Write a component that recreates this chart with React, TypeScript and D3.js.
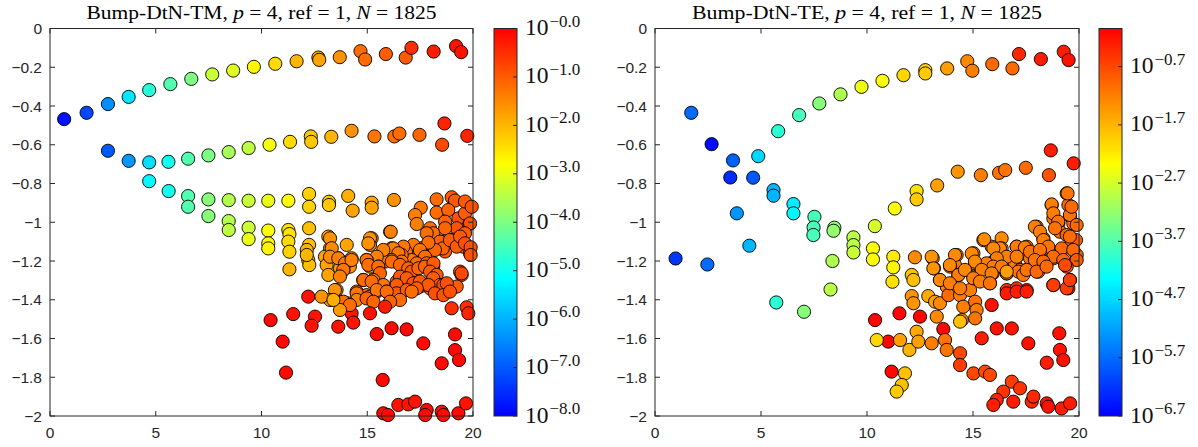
import React from "react";
import * as d3 from "d3";

// [x, y, log10(error)]
const tmData: number[][] = [
  [0.67,-0.468,-7.8],[1.73,-0.435,-7.2],[2.74,-0.39,-6.4],[3.72,-0.353,-5.4],[4.69,-0.318,-4.8],[5.69,-0.287,-4.4],[6.68,-0.26,-4.0],[7.67,-0.237,-3.3],[8.66,-0.217,-3.1],[9.64,-0.198,-2.7],[10.65,-0.182,-2.4],[11.66,-0.169,-2.0],[12.69,-0.15,-1.8],[12.73,-0.162,-1.8],[13.7,-0.148,-1.6],[14.68,-0.117,-1.2],[14.9,-0.16,-1.2],[15.88,-0.132,-1.0],[16.82,-0.15,-1.0],[17.09,-0.1,-0.5],[18.14,-0.119,-0.3],[19.2,-0.091,-0.2],[19.44,-0.122,-0.2],
  [2.74,-0.631,-7.0],[3.72,-0.683,-6.3],[4.69,-0.691,-5.5],[5.6,-0.688,-5.0],[6.53,-0.672,-4.4],[7.49,-0.655,-4.0],[8.45,-0.638,-3.6],[9.39,-0.617,-3.4],[10.38,-0.6,-2.9],[11.35,-0.585,-2.4],[12.33,-0.557,-2.2],[12.35,-0.585,-2.2],[13.3,-0.559,-2.0],[14.26,-0.528,-1.6],[15.34,-0.557,-1.3],[16.28,-0.557,-1.2],[16.52,-0.542,-1.2],[17.47,-0.549,-1.1],[18.65,-0.49,-0.4],[18.54,-0.6,-0.8],[19.73,-0.554,-0.4],
  [4.69,-0.788,-5.2],[5.61,-0.839,-5.0],[6.53,-0.865,-4.4],[6.53,-0.92,-4.4],[7.49,-0.882,-3.9],[7.49,-0.968,-3.9],[8.45,-0.886,-3.5],[8.45,-0.994,-3.5],[8.45,-1.04,-3.4],[9.39,-0.889,-3.3],[9.39,-1.028,-3.3],[9.39,-1.087,-3.0],
  [10.32,-0.889,-3.0],[11.27,-0.889,-2.8],[12.25,-0.854,-2.3],[12.25,-0.92,-2.3],[13.19,-0.894,-2.2],[13.19,-0.911,-2.2],[14.1,-0.864,-1.9],[14.31,-0.94,-1.8],[15.21,-0.899,-1.8],[15.21,-0.925,-1.8],[16.26,-0.885,-1.6],
  [17.53,-0.925,-1.3],[17.26,-0.963,-1.4],[17.34,-1.009,-1.4],[18.28,-0.882,-1.2],[18.28,-0.95,-1.2],[18.99,-0.871,-1.0],[19.15,-0.888,-1.0],[18.83,-0.937,-1.1],[18.68,-0.997,-1.1],[19.31,-0.98,-0.9],[19.23,-1.031,-0.9],[19.86,-0.92,-0.8],[19.83,-1.009,-0.8],[19.62,-0.954,-1.0],
  [19.62,-0.893,-1.0],[19.94,-0.92,-0.9],[19.86,-1.006,-0.9],[19.62,-1.057,-1.0],[19.07,-1.091,-1.0],[19.54,-1.126,-0.9],[19.86,-1.16,-0.9],[18.68,-1.031,-1.1],[17.97,-1.031,-1.2],[18.13,-1.066,-1.1],[18.52,-1.1,-1.1],[18.84,-1.117,-1.0],[18.68,-1.151,-1.0],[18.2,-1.109,-1.1],[18.36,-1.134,-1.1],[17.81,-1.134,-1.1],[17.57,-1.134,-1.2],[17.18,-1.126,-1.2],[17.02,-1.152,-1.2],
  [18.12,-1.057,-1.2],[18.44,-1.1,-1.1],[18.57,-1.135,-1.1],[18.2,-1.143,-1.1],[18.91,-1.092,-1.0],[19.23,-1.126,-1.0],[19.39,-1.074,-1.0],[19.62,-1.109,-0.9],[19.89,-1.129,-0.9],[19.89,-1.169,-0.9],
  [17.81,-1.057,-1.2],[17.89,-1.105,-1.2],[17.18,-1.117,-1.3],[17.49,-1.143,-1.3],[17.73,-1.178,-1.2],[16.83,-1.152,-1.3],[17.1,-1.195,-1.3],[17.34,-1.212,-1.2],[17.81,-1.212,-1.1],[18.12,-1.229,-1.1],[19.39,-1.255,-0.9],[19.46,-1.272,-0.9],
  [16.71,-1.126,-1.3],[16.63,-1.169,-1.2],[16.16,-1.134,-1.3],[16.23,-1.177,-1.2],[15.76,-1.152,-1.3],[15.68,-1.195,-1.2],[15.21,-1.083,-1.5],[15.13,-1.117,-1.4],[16.08,-1.049,-1.4],
  [16.11,-1.049,-1.4],[16.23,-1.135,-1.4],[16.47,-1.16,-1.3],[16.63,-1.203,-1.3],[16.15,-1.195,-1.3],[15.84,-1.203,-1.3],[15.13,-1.083,-1.6],[15.05,-1.109,-1.6],[15.76,-1.143,-1.4],[15.45,-1.178,-1.4],[15.52,-1.229,-1.3],[14.97,-1.195,-1.4],[15.13,-1.229,-1.4],
  [14.26,-1.186,-1.6],[14.18,-1.229,-1.6],[13.87,-1.246,-1.6],[13.71,-1.272,-1.6],[14.03,-1.117,-1.8],[13.16,-1.074,-1.8],[13.24,-1.135,-1.8],[13.0,-1.178,-1.8],[13.08,-1.221,-1.8],[13.16,-1.272,-1.8],[13.63,-1.186,-1.7],[13.71,-1.238,-1.7],
  [13.24,-1.083,-1.6],[13.32,-1.134,-1.5],[13.24,-1.178,-1.5],[13.63,-1.186,-1.4],[13.95,-1.212,-1.3],[14.26,-1.195,-1.4],[13.87,-1.246,-1.3],[13.71,-1.28,-1.4],[14.97,-1.195,-1.3],[15.05,-1.22,-1.2],[15.52,-1.229,-1.2],[15.6,-1.263,-1.1],[16.16,-1.203,-1.2],
  [16.55,-1.22,-1.1],[16.94,-1.238,-1.1],[17.1,-1.255,-1.0],[17.42,-1.238,-1.1],[17.73,-1.229,-1.1],[18.13,-1.212,-1.0],[17.97,-1.255,-1.0],[18.28,-1.272,-1.0],
  [12.25,-1.031,-2.1],[12.25,-1.117,-2.1],[12.21,-1.195,-2.1],[12.26,-1.221,-2.1],[12.14,-1.143,-2.0],[12.14,-1.169,-2.0],[11.27,-1.04,-2.5],[11.32,-1.061,-2.5],[11.27,-1.1,-2.4],[11.32,-1.152,-2.3],[11.32,-1.243,-2.0],[10.32,-1.043,-2.8],[10.32,-1.109,-2.7],[10.32,-1.135,-2.7],
  [14.81,-1.298,-1.3],[15.29,-1.298,-1.3],[15.76,-1.324,-1.3],[16.39,-1.307,-1.2],[16.86,-1.324,-1.2],[17.18,-1.315,-1.1],[17.49,-1.332,-1.1],[17.97,-1.341,-1.1],[18.12,-1.289,-1.0],[18.44,-1.324,-1.0],[18.76,-1.324,-1.0],[19.23,-1.332,-1.0],[19.46,-1.264,-0.8],
  [16.55,-1.281,-1.0],[16.87,-1.289,-1.0],[17.18,-1.315,-0.9],[17.49,-1.306,-1.0],[17.89,-1.324,-1.0],[18.6,-1.324,-0.9],[18.76,-1.315,-0.9],[18.2,-1.367,-0.9],[18.6,-1.376,-0.9],[18.91,-1.358,-0.9],
  [14.82,-1.298,-1.2],[15.21,-1.306,-1.2],[14.5,-1.358,-1.1],[14.97,-1.376,-1.1],[15.45,-1.358,-1.0],[15.92,-1.358,-1.0],[16.39,-1.324,-1.0],[16.39,-1.367,-1.0],[16.87,-1.35,-1.0],[17.34,-1.341,-1.0],[13.55,-1.35,-1.5],
  [14.5,-1.367,-1.3],[15.13,-1.384,-1.3],[15.45,-1.35,-1.3],[15.92,-1.358,-1.2],[16.55,-1.401,-1.2],[17.1,-1.358,-1.2],[14.5,-1.401,-1.4],[14.1,-1.419,-1.4],
  [12.21,-1.384,-0.2],[13.71,-1.41,-0.2],[14.26,-1.47,-0.2],[13.63,-1.539,-0.2],[14.34,-1.518,-0.2],[12.53,-1.487,-0.2],[12.37,-1.534,-0.2],[11.5,-1.474,-0.2],[10.43,-1.505,-0.1],[11.0,-1.616,-0.1],[11.16,-1.776,-0.1],
  [13.87,-1.41,-1.2],[14.18,-1.427,-1.2],[14.97,-1.393,-1.1],[15.29,-1.41,-1.1],[16.08,-1.41,-1.1],
  [13.47,-1.35,-1.6],[13.24,-1.401,-1.7],[13.71,-1.453,-1.7],[12.84,-1.384,-1.6],[13.4,-1.401,-1.9],
  [15.13,-1.47,-0.2],[15.45,-1.577,-0.1],[16.15,-1.547,-0.1],[16.86,-1.553,-0.1],[15.84,-1.436,-0.3],[17.65,-1.625,-0.1],[19.15,-1.579,-0.1],[19.15,-1.66,-0.1],[19.34,-1.711,-0.1],[18.52,-1.728,-0.1],[15.73,-1.814,-0.1],
  [18.99,-1.444,-0.5],[19.7,-1.439,-0.5],[19.78,-1.47,-0.4],
  [15.76,-1.986,-0.1],[15.98,-1.995,-0.1],[16.47,-1.943,-0.2],[16.94,-1.94,-0.2],[17.26,-1.926,-0.2],[17.81,-1.969,-0.1],[17.74,-1.995,-0.1],[18.52,-1.978,-0.1],[18.6,-1.995,-0.1],[19.31,-1.986,-0.1],[19.67,-1.935,-0.2],
];

const teData: number[][] = [
  [0.97,-1.187,-6.2],[1.71,-0.435,-5.7],[2.47,-1.218,-5.7],[2.67,-0.597,-6.6],[3.68,-0.681,-5.8],[3.55,-0.769,-6.3],[4.63,-0.77,-5.9],[3.86,-0.954,-5.3],[4.45,-1.121,-5.0],[4.87,-0.659,-4.7],
  [5.59,-0.834,-5.0],[5.59,-0.863,-5.0],[6.53,-0.906,-4.5],[6.53,-0.954,-4.4],[7.52,-0.972,-3.8],[7.48,-1.027,-3.8],[7.47,-1.066,-3.8],[8.46,-1.028,-3.2],[8.42,-1.044,-3.2],[8.37,-1.2,-3.0],[8.28,-1.347,-2.9],
  [9.36,-1.078,-2.9],[9.36,-1.118,-2.9],[9.36,-1.156,-2.8],[5.72,-1.414,-4.0],[7.03,-1.462,-3.3],[10.37,-1.02,-2.7],[10.28,-1.135,-2.4],[10.28,-1.192,-2.4],
  [5.81,-0.53,-4.0],[6.8,-0.447,-3.8],[7.75,-0.387,-3.3],[8.75,-0.34,-3.0],[9.74,-0.301,-2.5],[10.73,-0.27,-2.4],[11.72,-0.241,-2.0],[12.75,-0.215,-2.0],[12.75,-0.232,-1.9],[13.78,-0.206,-1.5],[14.73,-0.169,-1.3],[14.97,-0.218,-1.2],[15.91,-0.184,-1.0],[16.86,-0.206,-1.0],[17.17,-0.132,-0.4],[18.2,-0.158,-0.3],[19.28,-0.12,-0.3],[19.51,-0.163,-0.2],
  [11.31,-0.929,-2.4],[12.34,-0.839,-2.1],[12.34,-0.882,-1.9],[13.31,-0.81,-1.5],[14.28,-0.739,-1.4],[15.37,-0.757,-1.2],[16.23,-0.745,-1.1],[16.52,-0.731,-1.1],[17.49,-0.719,-1.0],[18.58,-0.757,-0.8],[18.67,-0.629,-0.3],[19.75,-0.696,-0.3],
  [11.24,-1.178,-2.2],[11.24,-1.233,-2.3],[11.2,-1.307,-2.1],[12.26,-1.181,-1.3],[12.11,-1.272,-1.8],[12.19,-1.298,-1.8],[12.11,-1.381,-1.4],[12.19,-1.418,-1.4],[13.1,-1.186,-1.3],[13.16,-1.238,-1.3],[13.44,-1.298,-1.2],[13.76,-1.332,-1.2],
  [12.89,-1.381,-1.6],[13.21,-1.41,-1.5],[13.44,-1.418,-1.3],[13.29,-1.487,-1.3],[13.84,-1.376,-1.0],[14.23,-1.169,-1.2],[14.15,-1.221,-1.2],[13.92,-1.229,-1.2],[14.31,-1.272,-1.1],[14.39,-1.376,-1.2],[14.54,-1.436,-1.2],[14.47,-1.505,-1.3],[14.39,-1.513,-1.8],
  [15.02,-1.16,-1.2],[15.1,-1.212,-1.3],[15.02,-1.281,-1.2],[14.86,-1.35,-1.2],[15.1,-1.41,-1.1],[15.17,-1.453,-1.2],[15.1,-1.496,-1.1],[15.49,-1.092,-1.3],[15.88,-1.126,-1.3],[16.35,-1.083,-1.3],[16.35,-1.135,-1.3],[15.96,-1.203,-1.2],[15.93,-1.264,-1.1],[15.8,-1.315,-1.1],
  [16.59,-1.229,-1.3],[16.59,-1.264,-1.3],[17.06,-1.126,-1.2],[17.14,-1.169,-1.2],[16.98,-1.212,-1.2],[17.22,-1.246,-1.1],[17.53,-1.126,-1.1],[17.69,-1.186,-1.1],[17.53,-1.246,-1.0],
  [18.0,-1.023,-1.2],[18.32,-1.083,-1.2],[18.16,-1.152,-1.1],[18.08,-1.255,-1.0],[18.71,-0.911,-1.1],[18.79,-0.98,-1.1],[19.03,-1.006,-1.1],[19.1,-1.049,-1.1],[19.42,-0.851,-1.1],[19.5,-0.911,-1.0],[19.58,-0.968,-1.1],[19.73,-1.006,-1.0],
  [18.48,-1.135,-1.1],[18.79,-1.186,-1.0],[19.18,-1.143,-1.0],[19.42,-1.066,-1.0],[19.58,-1.126,-1.0],[19.89,-1.169,-0.9],[19.86,-1.092,-0.9],[18.79,-1.324,-0.5],[19.5,-1.341,-0.5],[19.58,-1.298,-0.5],
  [19.46,-0.851,-1.1],[18.71,-0.908,-1.2],[18.79,-0.954,-1.2],[19.02,-0.997,-1.1],[18.87,-1.031,-1.1],[19.57,-0.962,-1.1],[19.65,-0.92,-1.0],[19.89,-1.014,-1.0],[19.57,-1.074,-1.0],[17.92,-1.023,-1.2],[18.16,-1.049,-1.2],[18.32,-1.092,-1.2],[18.55,-1.126,-1.1],[19.18,-1.135,-1.0],[19.73,-1.143,-1.0],[18.79,-1.178,-1.0],[19.26,-1.195,-1.0],[19.89,-1.195,-0.9],[19.42,-1.229,-0.8],
  [15.53,-1.088,-1.3],[16.27,-1.135,-1.3],[17.06,-1.126,-1.2],[17.45,-1.13,-1.2],[16.59,-1.178,-1.2],[17.06,-1.178,-1.2],[17.69,-1.152,-1.1],[18.16,-1.143,-1.1],[17.92,-1.195,-1.1],[18.32,-1.203,-1.0],[15.96,-1.135,-1.3],[16.12,-1.186,-1.2],[15.64,-1.212,-1.2],[15.96,-1.229,-1.2],
  [16.35,-1.229,-1.2],[16.59,-1.264,-1.1],[17.14,-1.255,-1.1],[17.37,-1.272,-1.1],[17.53,-1.246,-1.1],[18.0,-1.255,-1.0],[18.47,-1.229,-1.0],[14.15,-1.169,-1.3],[14.94,-1.161,-1.3],[15.09,-1.203,-1.3],[13.05,-1.178,-1.4],[13.13,-1.238,-1.4],
  [13.91,-1.221,-1.3],[14.31,-1.272,-1.2],[14.62,-1.246,-1.3],[15.41,-1.246,-1.2],[15.88,-1.264,-1.2],[15.01,-1.289,-1.2],[15.33,-1.306,-1.2],[15.8,-1.315,-1.1],[13.44,-1.298,-1.3],[13.91,-1.315,-1.2],[14.39,-1.341,-1.2],[16.59,-1.255,-1.5],
  [16.59,-1.35,-0.5],[17.06,-1.341,-0.5],[17.53,-1.35,-0.5],[18.79,-1.324,-0.6],[19.42,-1.341,-0.6],[19.57,-1.298,-0.6],[19.34,-1.221,-0.7],
  [16.59,-1.367,-0.3],[17.06,-1.358,-0.3],[17.53,-1.358,-0.3],[15.88,-1.427,-0.2],[10.38,-1.505,-0.1],[11.53,-1.47,-0.1],[12.5,-1.487,-0.1],[13.6,-1.551,-0.1],[11.0,-1.616,-0.1],
  [10.46,-1.608,-2.0],[11.56,-1.608,-1.5],[12.0,-1.659,-1.7],[12.34,-1.565,-1.6],[12.42,-1.616,-1.5],[13.05,-1.625,-1.2],[13.68,-1.608,-1.1],[13.76,-1.659,-1.1],[14.39,-1.676,-0.7],[14.39,-1.737,-0.6],
  [15.02,-1.78,-0.7],[15.57,-1.771,-0.7],[15.8,-1.788,-0.7],[15.41,-1.599,-0.3],[16.12,-1.548,-0.2],[16.83,-1.548,-0.2],[17.61,-1.625,-0.2],[19.07,-1.573,-0.2],[19.1,-1.659,-0.2],[19.26,-1.711,-0.2],[18.48,-1.725,-0.3],
  [11.16,-1.771,-0.1],[11.79,-1.78,-1.8],[11.64,-1.84,-1.8],[11.4,-1.874,-1.9],[16.83,-1.823,-0.6],[17.22,-1.857,-0.5],[16.43,-1.874,-0.5],[16.12,-1.917,-0.4],[15.96,-1.943,-0.3],[16.9,-1.926,-0.3],[17.77,-1.926,-0.4],[17.85,-1.9,-0.4],
  [18.48,-1.935,-0.2],[18.55,-1.952,-0.2],[19.18,-1.961,-0.3],[19.58,-1.935,-0.3],
];

const xTicks = [0, 5, 10, 15, 20];
const yTicks = [0, -0.2, -0.4, -0.6, -0.8, -1, -1.2, -1.4, -1.6, -1.8, -2];
const tmCbarTicks = [-8, -7, -6, -5, -4, -3, -2, -1, 0];
const teCbarTicks = [-6.7, -5.7, -4.7, -3.7, -2.7, -1.7, -0.7];
const tmCbarDomain = [-8, 0];
const teCbarDomain = [-6.7, -0.045];

const jetStops = [0, 0.357, 0.65, 1];
const jetColors = ["#0000ff", "#00ffff", "#ffff00", "#ff0000"];
const jet = d3.scaleLinear<string>().domain(jetStops).range(jetColors).clamp(true);

const AXIS = "#262626";
const SANS = "'Liberation Sans', Arial, sans-serif";
const SERIF = "'Liberation Serif', 'Times New Roman', serif";

type PanelProps = {
  left: number; right: number; top: number; bottom: number;
  cbLeft: number; cbWidth: number;
  data: number[][]; cbTicks: number[]; cbDomain: number[];
  title: string; gid: string;
};

function Panel(p: PanelProps) {
  const x = d3.scaleLinear().domain([0, 20]).range([p.left, p.right]);
  const y = d3.scaleLinear().domain([-2, 0]).range([p.bottom, p.top]);
  const cy = d3.scaleLinear().domain(p.cbDomain).range([p.bottom, p.top]);
  const norm = d3.scaleLinear().domain(p.cbDomain).range([0, 1]);
  const tl = 5;
  const cx = (p.left + p.right) / 2;
  const cbRight = p.cbLeft + p.cbWidth;
  return (
    <g>
      <defs>
        <linearGradient id={p.gid} x1="0" y1="1" x2="0" y2="0">
          {jetStops.map((s, i) => (
            <stop key={i} offset={s} stopColor={jetColors[i]} />
          ))}
        </linearGradient>
      </defs>
      <text x={cx - 175} y={18.5} textLength={350} lengthAdjust="spacingAndGlyphs" fontFamily={SERIF} fontSize={18} fill="#000">
        {p.title}, <tspan fontStyle="italic">p</tspan> = 4, ref = 1, <tspan fontStyle="italic">N</tspan> = 1825
      </text>
      {p.data.map((d, i) => (
        <circle key={i} cx={x(d[0])} cy={y(d[1])} r={6.6} fill={jet(norm(d[2]))} stroke="#000" strokeWidth={0.9} />
      ))}
      <rect x={p.left} y={p.top} width={p.right - p.left} height={p.bottom - p.top} fill="none" stroke={AXIS} strokeWidth={1} />
      {xTicks.map((t) => (
        <g key={"x" + t}>
          <line x1={x(t)} x2={x(t)} y1={p.bottom} y2={p.bottom - tl} stroke={AXIS} />
          <line x1={x(t)} x2={x(t)} y1={p.top} y2={p.top + tl} stroke={AXIS} />
          <text x={x(t)} y={p.bottom + 22} textAnchor="middle" fontFamily={SANS} fontSize={15.5} fill={AXIS}>{t}</text>
        </g>
      ))}
      {yTicks.map((t) => (
        <g key={"y" + t}>
          <line x1={p.left} x2={p.left + tl} y1={y(t)} y2={y(t)} stroke={AXIS} />
          <line x1={p.right} x2={p.right - tl} y1={y(t)} y2={y(t)} stroke={AXIS} />
          <text x={p.left - 8} y={y(t) + 5.5} textAnchor="end" fontFamily={SANS} fontSize={15.5} fill={AXIS}>{d3.format("")(t)}</text>
        </g>
      ))}
      <rect x={p.cbLeft} y={p.top} width={p.cbWidth} height={p.bottom - p.top} fill={`url(#${p.gid})`} stroke={AXIS} strokeWidth={1} />
      {p.cbTicks.map((t) => (
        <g key={"c" + t}>
          <line x1={cbRight} x2={cbRight - 4} y1={cy(t)} y2={cy(t)} stroke={AXIS} />
          <text x={cbRight + 8} y={cy(t) + 6.5} fontFamily={SERIF} fontSize={23.5} fill="#111">
            10<tspan fontSize={17} dx={1} dy={-8.5}>{"\u2212" + Math.abs(t).toFixed(1)}</tspan>
          </text>
        </g>
      ))}
    </g>
  );
}

export default function App() {
  return (
    <svg width={1198} height={447} style={{ position: "absolute", left: 0, top: 0, background: "#fff" }}>
      <rect width={1198} height={447} fill="#fff" />
      <Panel left={50} right={473} top={28.5} bottom={416} cbLeft={494} cbWidth={23}
        data={tmData} cbTicks={tmCbarTicks} cbDomain={tmCbarDomain} title="Bump-DtN-TM" gid="gTM" />
      <Panel left={655} right={1079} top={28.5} bottom={416} cbLeft={1099} cbWidth={23}
        data={teData} cbTicks={teCbarTicks} cbDomain={teCbarDomain} title="Bump-DtN-TE" gid="gTE" />
    </svg>
  );
}
